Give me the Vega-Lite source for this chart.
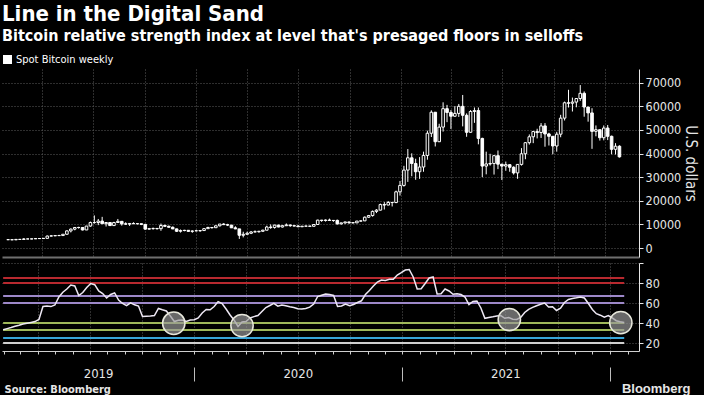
{
"$schema": "https://vega.github.io/schema/vega-lite/v6.json",
"background": "#000000",
"padding": {"left": 0, "top": 3, "right": 6, "bottom": 0},
"title": {"text": "Line in the Digital Sand", "subtitle": "Bitcoin relative strength index at level that's presaged floors in selloffs", "anchor": "start", "frame": "group", "font": "DejaVu Sans Condensed", "fontSize": 22, "fontWeight": "bold", "color": "#ffffff", "subtitleFont": "DejaVu Sans Condensed", "subtitleFontSize": 16, "subtitleFontWeight": "bold", "subtitleColor": "#ffffff", "subtitlePadding": 2, "offset": 9},
"config": {"view": {"stroke": null}, "axis": {"labelFont": "DejaVu Sans Condensed", "titleFont": "DejaVu Sans Condensed", "labelOverlap": false}, "legend": {"labelFont": "DejaVu Sans Condensed"}},
"spacing": 0,
"datasets": {
"btc": [
{"d":"2019-01-30","o":3540,"h":3620,"l":3500,"c":3530,"r":33.3},
{"d":"2019-02-06","o":3530,"h":3540,"l":3400,"c":3460,"r":34.4},
{"d":"2019-02-13","o":3460,"h":3700,"l":3380,"c":3660,"r":35.5},
{"d":"2019-02-20","o":3660,"h":3700,"l":3580,"c":3640,"r":36.7},
{"d":"2019-02-27","o":3640,"h":4200,"l":3640,"c":3850,"r":37.8},
{"d":"2019-03-06","o":3850,"h":3900,"l":3790,"c":3830,"r":39},
{"d":"2019-03-13","o":3830,"h":3930,"l":3730,"c":3900,"r":39.8},
{"d":"2019-03-20","o":3900,"h":4030,"l":3850,"c":4000,"r":40.6},
{"d":"2019-03-27","o":4000,"h":4100,"l":3950,"c":4020,"r":41.4},
{"d":"2019-04-03","o":4020,"h":4130,"l":3950,"c":4100,"r":43.5},
{"d":"2019-04-10","o":4100,"h":5300,"l":4080,"c":5060,"r":56.5},
{"d":"2019-04-17","o":5060,"h":5470,"l":4950,"c":5150,"r":57},
{"d":"2019-04-24","o":5150,"h":5350,"l":5100,"c":5280,"r":56.4},
{"d":"2019-05-01","o":5280,"h":5600,"l":5050,"c":5280,"r":58},
{"d":"2019-05-08","o":5280,"h":5900,"l":5250,"c":5830,"r":66},
{"d":"2019-05-15","o":5830,"h":7500,"l":5700,"c":7250,"r":70.8},
{"d":"2019-05-22","o":7250,"h":8300,"l":6600,"c":8000,"r":74},
{"d":"2019-05-29","o":8000,"h":8800,"l":7500,"c":8700,"r":78},
{"d":"2019-06-05","o":8700,"h":9000,"l":8200,"c":8700,"r":77},
{"d":"2019-06-12","o":8700,"h":8750,"l":7450,"c":7650,"r":67.5},
{"d":"2019-06-19","o":7650,"h":9350,"l":7600,"c":9300,"r":70.5},
{"d":"2019-06-26","o":9300,"h":11200,"l":9000,"c":10800,"r":75.5},
{"d":"2019-07-03","o":10800,"h":13800,"l":10300,"c":10800,"r":79.5},
{"d":"2019-07-10","o":10800,"h":12300,"l":9700,"c":11400,"r":78.3},
{"d":"2019-07-17","o":11400,"h":13200,"l":10300,"c":10300,"r":72},
{"d":"2019-07-24","o":10300,"h":11000,"l":9100,"c":10800,"r":69.5},
{"d":"2019-07-31","o":10800,"h":10800,"l":9400,"c":9500,"r":65},
{"d":"2019-08-07","o":9500,"h":11100,"l":9400,"c":10800,"r":68.5},
{"d":"2019-08-14","o":10800,"h":12300,"l":10800,"c":11300,"r":70},
{"d":"2019-08-21","o":11300,"h":11400,"l":9500,"c":10250,"r":63},
{"d":"2019-08-28","o":10250,"h":10900,"l":9800,"c":10100,"r":59.5},
{"d":"2019-09-04","o":10100,"h":10600,"l":9350,"c":10400,"r":57.3},
{"d":"2019-09-11","o":10400,"h":10900,"l":10100,"c":10300,"r":60.2},
{"d":"2019-09-18","o":10300,"h":10450,"l":10000,"c":10300,"r":58.2},
{"d":"2019-09-25","o":10300,"h":10300,"l":9700,"c":10000,"r":57},
{"d":"2019-10-02","o":10000,"h":10000,"l":7800,"c":8000,"r":46.5},
{"d":"2019-10-09","o":8000,"h":8500,"l":7800,"c":8200,"r":46.8},
{"d":"2019-10-16","o":8200,"h":8650,"l":7800,"c":8300,"r":47},
{"d":"2019-10-23","o":8300,"h":8400,"l":7800,"c":8200,"r":47.5},
{"d":"2019-10-30","o":8200,"h":10350,"l":7300,"c":9550,"r":54.5},
{"d":"2019-11-06","o":9550,"h":9900,"l":8950,"c":9200,"r":53.2},
{"d":"2019-11-13","o":9200,"h":9500,"l":8700,"c":8800,"r":52},
{"d":"2019-11-20","o":8800,"h":9100,"l":8000,"c":8100,"r":47},
{"d":"2019-11-27","o":8100,"h":8200,"l":6800,"c":7100,"r":41.5},
{"d":"2019-12-04","o":7100,"h":7850,"l":6550,"c":7400,"r":42.8},
{"d":"2019-12-11","o":7400,"h":7700,"l":7100,"c":7500,"r":43},
{"d":"2019-12-18","o":7500,"h":7600,"l":7000,"c":7050,"r":41.6},
{"d":"2019-12-25","o":7050,"h":7500,"l":6450,"c":7200,"r":43},
{"d":"2020-01-01","o":7300,"h":7700,"l":7150,"c":7300,"r":43.3},
{"d":"2020-01-08","o":7300,"h":7500,"l":6900,"c":7400,"r":45},
{"d":"2020-01-15","o":7400,"h":8450,"l":7350,"c":8200,"r":50},
{"d":"2020-01-22","o":8200,"h":9000,"l":8100,"c":8700,"r":53.5},
{"d":"2020-01-29","o":8700,"h":8750,"l":8250,"c":8600,"r":53.2},
{"d":"2020-02-05","o":8600,"h":9550,"l":8550,"c":9400,"r":56.5},
{"d":"2020-02-12","o":9400,"h":10150,"l":9150,"c":10150,"r":61.4},
{"d":"2020-02-19","o":10150,"h":10500,"l":9750,"c":9900,"r":59.5},
{"d":"2020-02-26","o":9900,"h":10250,"l":9300,"c":9700,"r":54},
{"d":"2020-03-04","o":9700,"h":9700,"l":8500,"c":8550,"r":48},
{"d":"2020-03-11","o":8550,"h":9200,"l":8000,"c":8100,"r":43},
{"d":"2020-03-18","o":8100,"h":8100,"l":3850,"c":5400,"r":36.5},
{"d":"2020-03-25","o":5400,"h":6900,"l":4500,"c":5800,"r":41},
{"d":"2020-04-01","o":5800,"h":6900,"l":5700,"c":6250,"r":41.5},
{"d":"2020-04-08","o":6250,"h":7200,"l":5900,"c":6800,"r":45},
{"d":"2020-04-15","o":6800,"h":7450,"l":6650,"c":6900,"r":46.4},
{"d":"2020-04-22","o":6900,"h":7250,"l":6500,"c":7100,"r":47.5},
{"d":"2020-04-29","o":7100,"h":7750,"l":6800,"c":7550,"r":51.5},
{"d":"2020-05-06","o":7550,"h":9450,"l":7550,"c":8900,"r":55.5},
{"d":"2020-05-13","o":8900,"h":10000,"l":8100,"c":8700,"r":57.5},
{"d":"2020-05-20","o":8700,"h":9900,"l":8200,"c":9700,"r":59.6},
{"d":"2020-05-27","o":9700,"h":9850,"l":8800,"c":8900,"r":56.8},
{"d":"2020-06-03","o":8900,"h":9700,"l":8700,"c":9450,"r":58},
{"d":"2020-06-10","o":9450,"h":10400,"l":9300,"c":9750,"r":57.2},
{"d":"2020-06-17","o":9750,"h":9950,"l":9000,"c":9450,"r":56.2},
{"d":"2020-06-24","o":9450,"h":9600,"l":9200,"c":9300,"r":55.4},
{"d":"2020-07-01","o":9300,"h":9800,"l":8900,"c":9000,"r":54.2},
{"d":"2020-07-08","o":9000,"h":9300,"l":8950,"c":9250,"r":54},
{"d":"2020-07-15","o":9250,"h":9450,"l":9100,"c":9300,"r":54.5},
{"d":"2020-07-22","o":9300,"h":9350,"l":9050,"c":9200,"r":55.8},
{"d":"2020-07-29","o":9200,"h":10100,"l":9150,"c":9950,"r":59},
{"d":"2020-08-05","o":9950,"h":12000,"l":9950,"c":11800,"r":66.5},
{"d":"2020-08-12","o":11800,"h":11900,"l":11100,"c":11650,"r":67.8},
{"d":"2020-08-19","o":11650,"h":12100,"l":11200,"c":11850,"r":69},
{"d":"2020-08-26","o":11850,"h":12450,"l":11500,"c":11650,"r":68.5},
{"d":"2020-09-02","o":11650,"h":11800,"l":11100,"c":11700,"r":67.5},
{"d":"2020-09-09","o":11700,"h":12050,"l":9900,"c":10250,"r":56.6},
{"d":"2020-09-16","o":10250,"h":10700,"l":9900,"c":10650,"r":57},
{"d":"2020-09-23","o":10650,"h":11100,"l":10250,"c":11050,"r":59},
{"d":"2020-09-30","o":11050,"h":11100,"l":10150,"c":10750,"r":57.3},
{"d":"2020-10-07","o":10750,"h":10950,"l":10400,"c":10650,"r":58.5},
{"d":"2020-10-14","o":10650,"h":11500,"l":10550,"c":11400,"r":60.5},
{"d":"2020-10-21","o":11400,"h":11700,"l":11200,"c":11500,"r":62.2},
{"d":"2020-10-28","o":11500,"h":13350,"l":11450,"c":13050,"r":68.5},
{"d":"2020-11-04","o":13050,"h":14000,"l":12800,"c":13750,"r":72.5},
{"d":"2020-11-11","o":13750,"h":15900,"l":13300,"c":15500,"r":77},
{"d":"2020-11-18","o":15500,"h":16450,"l":14800,"c":16050,"r":81},
{"d":"2020-11-25","o":16050,"h":18800,"l":15900,"c":18400,"r":83},
{"d":"2020-12-02","o":18400,"h":19450,"l":16300,"c":18200,"r":82.6},
{"d":"2020-12-09","o":18200,"h":19900,"l":18100,"c":19300,"r":83.7},
{"d":"2020-12-16","o":19300,"h":19400,"l":17600,"c":19250,"r":83.7},
{"d":"2020-12-23","o":19250,"h":24300,"l":19000,"c":23800,"r":88},
{"d":"2020-12-30","o":23800,"h":28400,"l":22200,"c":26500,"r":90.4},
{"d":"2021-01-06","o":26500,"h":34800,"l":26000,"c":33000,"r":93},
{"d":"2021-01-13","o":33000,"h":41900,"l":28000,"c":38200,"r":93.5},
{"d":"2021-01-20","o":38200,"h":40100,"l":30400,"c":35800,"r":86},
{"d":"2021-01-27","o":35800,"h":37800,"l":28900,"c":32300,"r":74},
{"d":"2021-02-03","o":32300,"h":38500,"l":29300,"c":34300,"r":74.3},
{"d":"2021-02-10","o":34300,"h":40800,"l":32300,"c":39200,"r":79.5},
{"d":"2021-02-17","o":39200,"h":49700,"l":37400,"c":48600,"r":85},
{"d":"2021-02-24","o":48600,"h":58300,"l":47000,"c":57500,"r":86},
{"d":"2021-03-03","o":57500,"h":57500,"l":43000,"c":45000,"r":69},
{"d":"2021-03-10","o":45000,"h":52600,"l":44950,"c":51200,"r":69.3},
{"d":"2021-03-17","o":51200,"h":61700,"l":49300,"c":59000,"r":74},
{"d":"2021-03-24","o":59000,"h":60600,"l":53300,"c":57400,"r":72},
{"d":"2021-03-31","o":57400,"h":58400,"l":50400,"c":55800,"r":68.7},
{"d":"2021-04-07","o":55800,"h":60100,"l":55600,"c":57000,"r":69.3},
{"d":"2021-04-14","o":57000,"h":61000,"l":55500,"c":60000,"r":68.5},
{"d":"2021-04-21","o":60000,"h":64800,"l":51500,"c":56200,"r":66},
{"d":"2021-04-28","o":56200,"h":57000,"l":47100,"c":49000,"r":58.5},
{"d":"2021-05-05","o":49000,"h":58400,"l":48800,"c":57800,"r":61.5},
{"d":"2021-05-12","o":57800,"h":59500,"l":53000,"c":58200,"r":62},
{"d":"2021-05-19","o":58200,"h":59500,"l":43900,"c":46400,"r":55},
{"d":"2021-05-26","o":46400,"h":46700,"l":30000,"c":34700,"r":44.7},
{"d":"2021-06-02","o":34700,"h":40800,"l":31200,"c":35600,"r":45.5},
{"d":"2021-06-09","o":35600,"h":39900,"l":34900,"c":35800,"r":46.2},
{"d":"2021-06-16","o":35800,"h":39400,"l":31100,"c":39100,"r":47},
{"d":"2021-06-23","o":39100,"h":41300,"l":33400,"c":35500,"r":47.4},
{"d":"2021-06-30","o":35500,"h":35600,"l":28800,"c":34700,"r":44.7},
{"d":"2021-07-07","o":34700,"h":36600,"l":32700,"c":35300,"r":45.4},
{"d":"2021-07-14","o":35300,"h":35400,"l":32300,"c":34200,"r":43.8},
{"d":"2021-07-21","o":34200,"h":34600,"l":31100,"c":31800,"r":43.5},
{"d":"2021-07-28","o":31800,"h":35500,"l":29300,"c":35400,"r":45.5},
{"d":"2021-08-04","o":35400,"h":42300,"l":34900,"c":39900,"r":50.5},
{"d":"2021-08-11","o":39900,"h":44800,"l":37600,"c":44600,"r":53.7},
{"d":"2021-08-18","o":44600,"h":48100,"l":43800,"c":47100,"r":55.6},
{"d":"2021-08-25","o":47100,"h":49600,"l":44400,"c":49300,"r":57.2},
{"d":"2021-09-01","o":49300,"h":50500,"l":46400,"c":48900,"r":58.7},
{"d":"2021-09-08","o":48900,"h":52900,"l":46600,"c":51700,"r":60},
{"d":"2021-09-15","o":51700,"h":52900,"l":42900,"c":48300,"r":56},
{"d":"2021-09-22","o":48300,"h":48800,"l":43400,"c":47300,"r":56.3},
{"d":"2021-09-29","o":47300,"h":47400,"l":39700,"c":43200,"r":52.5},
{"d":"2021-10-06","o":43200,"h":49200,"l":40800,"c":48200,"r":54.8},
{"d":"2021-10-13","o":48200,"h":56400,"l":46900,"c":55000,"r":60.5},
{"d":"2021-10-20","o":55000,"h":62000,"l":54000,"c":61500,"r":63.5},
{"d":"2021-10-27","o":61500,"h":67000,"l":59500,"c":61300,"r":64.5},
{"d":"2021-11-03","o":61300,"h":63700,"l":57800,"c":61800,"r":65.2},
{"d":"2021-11-10","o":61800,"h":63500,"l":59600,"c":63300,"r":66},
{"d":"2021-11-17","o":63300,"h":69000,"l":62300,"c":65500,"r":65},
{"d":"2021-11-24","o":65500,"h":66300,"l":55600,"c":59700,"r":59.5},
{"d":"2021-12-01","o":59700,"h":59700,"l":53500,"c":57200,"r":53.5},
{"d":"2021-12-08","o":57200,"h":59200,"l":42000,"c":49400,"r":49.3},
{"d":"2021-12-15","o":49400,"h":51900,"l":47300,"c":50100,"r":47.8},
{"d":"2021-12-22","o":50100,"h":50100,"l":45500,"c":46700,"r":45.8},
{"d":"2021-12-29","o":46700,"h":51900,"l":45600,"c":50800,"r":47.5},
{"d":"2022-01-05","o":50800,"h":52100,"l":45700,"c":47300,"r":45},
{"d":"2022-01-12","o":47300,"h":47600,"l":39700,"c":41800,"r":42.3},
{"d":"2022-01-19","o":41800,"h":44400,"l":39600,"c":43100,"r":41.2},
{"d":"2022-01-26","o":43100,"h":43500,"l":38300,"c":38600,"r":40.4}
],
"levels": [{"lv":85},{"lv":80},{"lv":67},{"lv":60},{"lv":40},{"lv":33},{"lv":25},{"lv":20}],
"circles": [{"d":"2019-11-26","r":39.7},{"d":"2020-03-25","r":37.4},{"d":"2021-07-08","r":43.4},{"d":"2022-01-20","r":40.4}]
},
"vconcat": [
{
"width": 637, "height": 188,
"data": {"name": "btc"},
"layer": [
{"mark": {"type": "rule", "strokeWidth": 1},
 "encoding": {
  "x": {"field": "d", "type": "temporal", "scale": {"type": "utc", "domain": [{"year":2019,"month":1,"date":28,"utc":true},{"year":2022,"month":2,"date":21,"utc":true}]},
        "axis": {"orient": "bottom", "tickCount": 20, "values": [{"year":2019,"month":4,"date":1,"utc":true},{"year":2019,"month":7,"date":1,"utc":true},{"year":2019,"month":10,"date":1,"utc":true},{"year":2020,"month":1,"date":1,"utc":true},{"year":2020,"month":4,"date":1,"utc":true},{"year":2020,"month":7,"date":1,"utc":true},{"year":2020,"month":10,"date":1,"utc":true},{"year":2021,"month":1,"date":1,"utc":true},{"year":2021,"month":4,"date":1,"utc":true},{"year":2021,"month":7,"date":1,"utc":true},{"year":2021,"month":10,"date":1,"utc":true},{"year":2022,"month":1,"date":1,"utc":true}],
                 "grid": true, "gridColor": "#5c5c5c", "gridDash": [1, 2], "ticks": false, "labels": false, "domain": true, "domainColor": "#6e6e6e", "domainWidth": 2, "title": null}},
  "y": {"field": "l", "type": "quantitative", "scale": {"domain": [-3800, 75800], "nice": false, "zero": false},
        "axis": {"orient": "right", "tickCount": 10, "values": [0,10000,20000,30000,40000,50000,60000,70000], "format": "d", "labelOverlap": false, "grid": true, "gridColor": "#5c5c5c", "gridDash": [1, 2], "labelColor": "#e6e6e6", "labelFontSize": 12.5, "tickColor": "#e6e6e6", "tickSize": 4, "domainColor": "#e6e6e6", "title": "U.S. dollars", "titleColor": "#e6e6e6", "titleFontSize": 15, "titleFontWeight": "normal", "titlePadding": 2}},
  "y2": {"field": "h"},
  "color": {"datum": "Spot Bitcoin weekly", "type": "nominal", "scale": {"range": ["#ffffff"]},
            "legend": {"orient": "top", "title": null, "symbolType": "square", "symbolSize": 56, "symbolFillColor": "#ffffff", "symbolStrokeColor": "#ffffff", "labelColor": "#ffffff", "labelFontSize": 11, "padding": 0, "offset": 2, "labelOffset": 3}}
 }},
{"mark": {"type": "bar", "size": 2.6, "stroke": "#ffffff", "strokeWidth": 1},
 "encoding": {
  "x": {"field": "d", "type": "temporal"},
  "y": {"field": "o", "type": "quantitative"},
  "y2": {"field": "c"},
  "fill": {"condition": {"test": "datum.c >= datum.o", "value": "#000000"}, "value": "#ffffff"}
 }}
]
},
{
"width": 637, "height": 88,
"resolve": {"axis": {"x": "independent"}},
"layer": [
{"data": {"name": "levels"}, "mark": {"type": "rule", "strokeWidth": 2},
 "encoding": {
  "x": {"datum": {"year":2019,"month":1,"date":30,"utc":true}, "type": "temporal", "scale": {"type": "utc", "domain": [{"year":2019,"month":1,"date":28,"utc":true},{"year":2022,"month":2,"date":21,"utc":true}]},
        "axis": {"orient": "bottom", "tickCount": {"interval": "month", "step": 1}, "labels": false, "ticks": true, "tickSize": 3, "tickColor": "#cfcfcf", "domain": true, "domainColor": "#cfcfcf", "grid": false,
                 "title": "Source: Bloomberg", "titleColor": "#e6e6e6", "titleFont": "DejaVu Sans Condensed", "titleFontSize": 11, "titleFontWeight": "bold", "titleAnchor": "start", "titleAlign": "left", "titleBaseline": "alphabetic", "titleX": 2, "titleY": 41}},
  "x2": {"datum": {"year":2022,"month":1,"date":26,"utc":true}},
  "y": {"field": "lv", "type": "quantitative", "scale": {"domain": [12, 100], "nice": false, "zero": false},
        "axis": {"orient": "right", "tickCount": 10, "values": [20, 40, 60, 80, 100], "labelExpr": "datum.value == 100 ? '' : datum.label", "labelOverlap": false, "grid": true, "gridColor": "#5c5c5c", "gridDash": [1, 2], "labelColor": "#e6e6e6", "labelFontSize": 12.5, "tickColor": "#e6e6e6", "tickSize": 4, "domainColor": "#e6e6e6", "title": null}},
  "stroke": {"field": "lv", "type": "nominal", "scale": {"domain": [85, 80, 67, 60, 40, 33, 25, 20], "range": ["#b8292f", "#b8292f", "#9d88c9", "#9d88c9", "#9fb85a", "#9fb85a", "#38a5d8", "#cfcfcf"]}, "legend": null}
 }},
{"data": {"name": "btc"}, "mark": {"type": "line", "color": "#eee8f4", "strokeWidth": 1.5},
 "encoding": {
  "x": {"field": "d", "type": "temporal",
        "axis": {"orient": "bottom", "tickCount": 20, "values": [{"year":2019,"month":4,"date":1,"utc":true},{"year":2019,"month":7,"date":1,"utc":true},{"year":2019,"month":10,"date":1,"utc":true},{"year":2020,"month":1,"date":1,"utc":true},{"year":2020,"month":4,"date":1,"utc":true},{"year":2020,"month":7,"date":1,"utc":true},{"year":2020,"month":10,"date":1,"utc":true},{"year":2021,"month":1,"date":1,"utc":true},{"year":2021,"month":4,"date":1,"utc":true},{"year":2021,"month":7,"date":1,"utc":true},{"year":2021,"month":10,"date":1,"utc":true},{"year":2022,"month":1,"date":1,"utc":true}],
                 "grid": true, "gridColor": "#5c5c5c", "gridDash": [1, 2], "ticks": false, "labels": false, "domain": false, "title": null}},
  "y": {"field": "r", "type": "quantitative"}
 }},
{"data": {"name": "circles"}, "mark": {"type": "circle", "size": 500, "fill": "#9a9a9a", "fillOpacity": 0.68, "stroke": "#e8e8dc", "strokeWidth": 1.5, "strokeOpacity": 1},
 "encoding": {
  "x": {"field": "d", "type": "temporal",
        "axis": {"orient": "bottom", "tickCount": 10, "values": [{"year":2019,"month":7,"date":16,"utc":true},{"year":2020,"month":7,"date":1,"utc":true},{"year":2021,"month":7,"date":1,"utc":true}], "labelExpr": "utcFormat(datum.value, '%Y')", "ticks": false, "domain": false, "grid": false, "labelColor": "#e6e6e6", "labelFontSize": 13, "labelPadding": 16, "title": null}},
  "y": {"field": "r", "type": "quantitative"}
 }},
{"data": {"name": "btc"}, "mark": {"type": "rule", "opacity": 0},
 "encoding": {
  "x": {"field": "d", "type": "temporal",
        "axis": {"orient": "bottom", "tickCount": 10, "values": [{"year":2020,"month":1,"date":1,"utc":true},{"year":2021,"month":1,"date":1,"utc":true},{"year":2022,"month":1,"date":1,"utc":true}], "ticks": true, "tickSize": 14, "tickColor": "#bdbdbd", "offset": 16, "labels": false, "domain": false, "grid": false,
                 "title": "Bloomberg", "titleColor": "#e6e6e6", "titleFont": "Liberation Sans", "titleFontSize": 13, "titleFontWeight": "bold", "titleAlign": "right", "titleBaseline": "alphabetic", "titleX": 688, "titleY": 25}}
 }}
]
}
]
}
